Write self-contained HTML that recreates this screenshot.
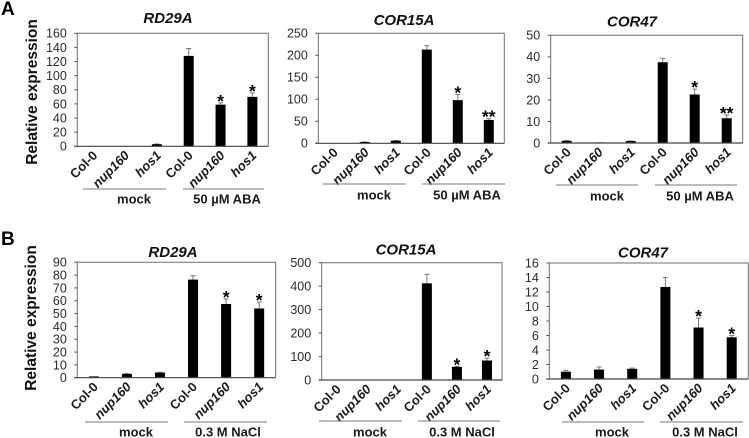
<!DOCTYPE html>
<html>
<head>
<meta charset="utf-8">
<title>Relative expression charts</title>
<style>
html,body{margin:0;padding:0;background:#fff;}
svg{display:block;font-family:"Liberation Sans",sans-serif;}
</style>
</head>
<body>
<svg id="figure" width="749" height="438" viewBox="0 0 749 438" xmlns="http://www.w3.org/2000/svg"></svg>
<script>
var categories = ['Col-0', 'nup160', 'hos1', 'Col-0', 'nup160', 'hos1'];

var a1Ticks = [0, 20, 40, 60, 80, 100, 120, 140, 160];
var a1Values = [0.5, 0.5, 3, 128, 59, 70];
var a1Errors = [0, 0, 0.3, 10.5, 2.5, 5.5];
var a1Stars = ['', '', '', '', '*', '*'];

var a2Ticks = [0, 50, 100, 150, 200, 250];
var a2Values = [0.5, 3, 6, 213, 98, 53];
var a2Errors = [0, 0.3, 0.5, 9, 13, 3];
var a2Stars = ['', '', '', '', '*', '**'];

var a3Ticks = [0, 10, 20, 30, 40, 50];
var a3Values = [1, 0.3, 0.9, 37.5, 22.5, 11.5];
var a3Errors = [0.1, 0, 0.1, 1.8, 2.5, 1.5];
var a3Stars = ['', '', '', '', '*', '**'];

var b1Ticks = [0, 10, 20, 30, 40, 50, 60, 70, 80, 90];
var b1Values = [1, 3, 4, 76.5, 57.5, 54];
var b1Errors = [0, 0.2, 0.2, 3, 4, 5];
var b1Stars = ['', '', '', '', '*', '*'];

var b2Ticks = [0, 100, 200, 300, 400, 500];
var b2Values = [0.5, 0.5, 0.5, 412, 56, 83];
var b2Errors = [0, 0, 0, 38, 2, 10];
var b2Stars = ['', '', '', '', '*', '*'];

var b3Ticks = [0, 2, 4, 6, 8, 10, 12, 14, 16];
var b3Values = [1, 1.3, 1.4, 12.7, 7.1, 5.75];
var b3Errors = [0.15, 0.35, 0.1, 1.3, 1.3, 0.25];
var b3Stars = ['', '', '', '', '*', '*'];

var panels = [
  {id:'a-rd29a', title:'RD29A', ticks:a1Ticks, values:a1Values, errors:a1Errors, stars:a1Stars,
   box:[77.3,268.3,33.3,146.3], titlePos:[168,23], group:'50 µM ABA', line:[83,166,183,264,189], lab:[134,227,203.5]},
  {id:'a-cor15a', title:'COR15A', ticks:a2Ticks, values:a2Values, errors:a2Errors, stars:a2Stars,
   box:[318.3,504.3,33.3,143.3], titlePos:[404,25], group:'50 µM ABA', line:[323,406,422,505,184], lab:[374,467,199.5]},
  {id:'a-cor47', title:'COR47', ticks:a3Ticks, values:a3Values, errors:a3Errors, stars:a3Stars,
   box:[550.7,742.7,35.3,143], titlePos:[632,26.5], group:'50 µM ABA', line:[556,638,655,737,185], lab:[607,700,200.5]},
  {id:'b-rd29a', title:'RD29A', ticks:b1Ticks, values:b1Values, errors:b1Errors, stars:b1Stars,
   box:[77.3,275.7,262.3,377.7], titlePos:[173,257], group:'0.3 M NaCl', line:[85,168,184,267,422], lab:[136,228,436.5]},
  {id:'b-cor15a', title:'COR15A', ticks:b2Ticks, values:b2Values, errors:b2Errors, stars:b2Stars,
   box:[321.7,502,262.7,380], titlePos:[406,254.5], group:'0.3 M NaCl', line:[319,402,418,500,421], lab:[370,462,436.5]},
  {id:'b-cor47', title:'COR47', ticks:b3Ticks, values:b3Values, errors:b3Errors, stars:b3Stars,
   box:[549.3,748.3,263,379], titlePos:[643,257.5], group:'0.3 M NaCl', line:[562,644,660,743,422], lab:[612,705,436.5]}
];

var svg = document.getElementById('figure');
var NS = 'http://www.w3.org/2000/svg';

function make(tag, attrs, parent, text) {
  var el = document.createElementNS(NS, tag);
  for (var k in attrs) { el.setAttribute(k, attrs[k]); }
  if (text !== undefined) { el.textContent = text; }
  (parent || svg).appendChild(el);
  return el;
}

function xScale(box, i) {
  return box[0] + (box[1] - box[0]) * (i + 0.5) / categories.length;
}

function yScale(box, ticks, v) {
  var top = ticks[ticks.length - 1];
  return box[3] - (box[3] - box[2]) * v / top;
}

panels.forEach(function (p) {
  var box = p.box;
  var g = make('g', {});
  
  

  var title = make('text', {x:p.titlePos[0], y:p.titlePos[1], 'text-anchor':'middle', 'font-size':15, 'font-weight':'bold', 'font-style':'italic', fill:'#111'}, g, p.title);
  
  

  var frame = make('path', {d:'M' + box[0] + ' ' + box[3] + 'V' + box[2] + 'H' + box[1] + 'V' + box[3], fill:'none', stroke:'#6e6e6e', 'stroke-width':1}, g);
  
  

  p.ticks.forEach(function (t) {
    var y = yScale(box, p.ticks, t);
    var tick = make('line', {x1:box[0] - 3, x2:box[0], y1:y, y2:y, stroke:'#555', 'stroke-width':1}, g);
    
    
    var lab = make('text', {x:box[0] - 10.5, y:y + 4.4, 'text-anchor':'end', 'font-size':12.5, fill:'#2b2b2b'}, g, String(t));
    
    
  });

  p.values.forEach(function (v, i) {
    var cx = xScale(box, i);
    var yTop = yScale(box, p.ticks, v);
    var yErr = yScale(box, p.ticks, v + p.errors[i]);
    if (p.errors[i] > 0) {
      var err = make('path', {d:'M' + cx + ' ' + yTop + 'V' + yErr + 'M' + (cx - 2.5) + ' ' + yErr + 'H' + (cx + 2.5), fill:'none', stroke:'#777', 'stroke-width':1}, g);
      
      
    }
    var bar = make('rect', {x:cx - 5, y:yTop, width:10, height:box[3] - yTop, fill:'#000'}, g);
    
    
    if (p.stars[i]) {
      var star = make('text', {x:cx, y:yErr + 4, 'text-anchor':'middle', 'font-size':17.5, 'font-weight':'bold', fill:'#000'}, g, p.stars[i]);
      
      
    }
    var lx = cx + 5, ly = box[3] + 10;
    var cat = make('text', {x:lx, y:ly, 'text-anchor':'end', 'font-size':13, 'font-weight':'bold', 'font-style':categories[i] === 'Col-0' ? 'normal' : 'italic', fill:'#1a1a1a', transform:'rotate(-45 ' + lx + ' ' + ly + ')'}, g, categories[i]);
    
    
  });

  var axis = make('line', {x1:box[0] - 3, x2:box[1], y1:box[3], y2:box[3], stroke:'#444', 'stroke-width':1.2}, g);
  
  

  var l = p.line;
  var line1 = make('line', {x1:l[0], x2:l[1], y1:l[4], y2:l[4], stroke:'#777', 'stroke-width':1}, g);
  
  
  var line2 = make('line', {x1:l[2], x2:l[3], y1:l[4], y2:l[4], stroke:'#777', 'stroke-width':1}, g);
  
  

  var mock = make('text', {x:p.lab[0], y:p.lab[2], 'text-anchor':'middle', 'font-size':13, 'font-weight':'bold', fill:'#1a1a1a'}, g, 'mock');
  
  
  var treat = make('text', {x:p.lab[1], y:p.lab[2], 'text-anchor':'middle', 'font-size':13, 'font-weight':'bold', fill:'#1a1a1a'}, g, p.group);
  
  
});

var letterA = make('text', {x:1, y:15, 'font-size':19, 'font-weight':'bold', fill:'#000'}, svg, 'A');


var letterB = make('text', {x:1, y:245, 'font-size':19, 'font-weight':'bold', fill:'#000'}, svg, 'B');



var titleA = make('text', {x:37, y:92, 'text-anchor':'middle', 'font-size':15.5, 'font-weight':'bold', fill:'#111', transform:'rotate(-90 37 92)'}, svg, 'Relative expression');


var titleB = make('text', {x:36, y:318, 'text-anchor':'middle', 'font-size':15.5, 'font-weight':'bold', fill:'#111', transform:'rotate(-90 36 318)'}, svg, 'Relative expression');


</script>
</body>
</html>
